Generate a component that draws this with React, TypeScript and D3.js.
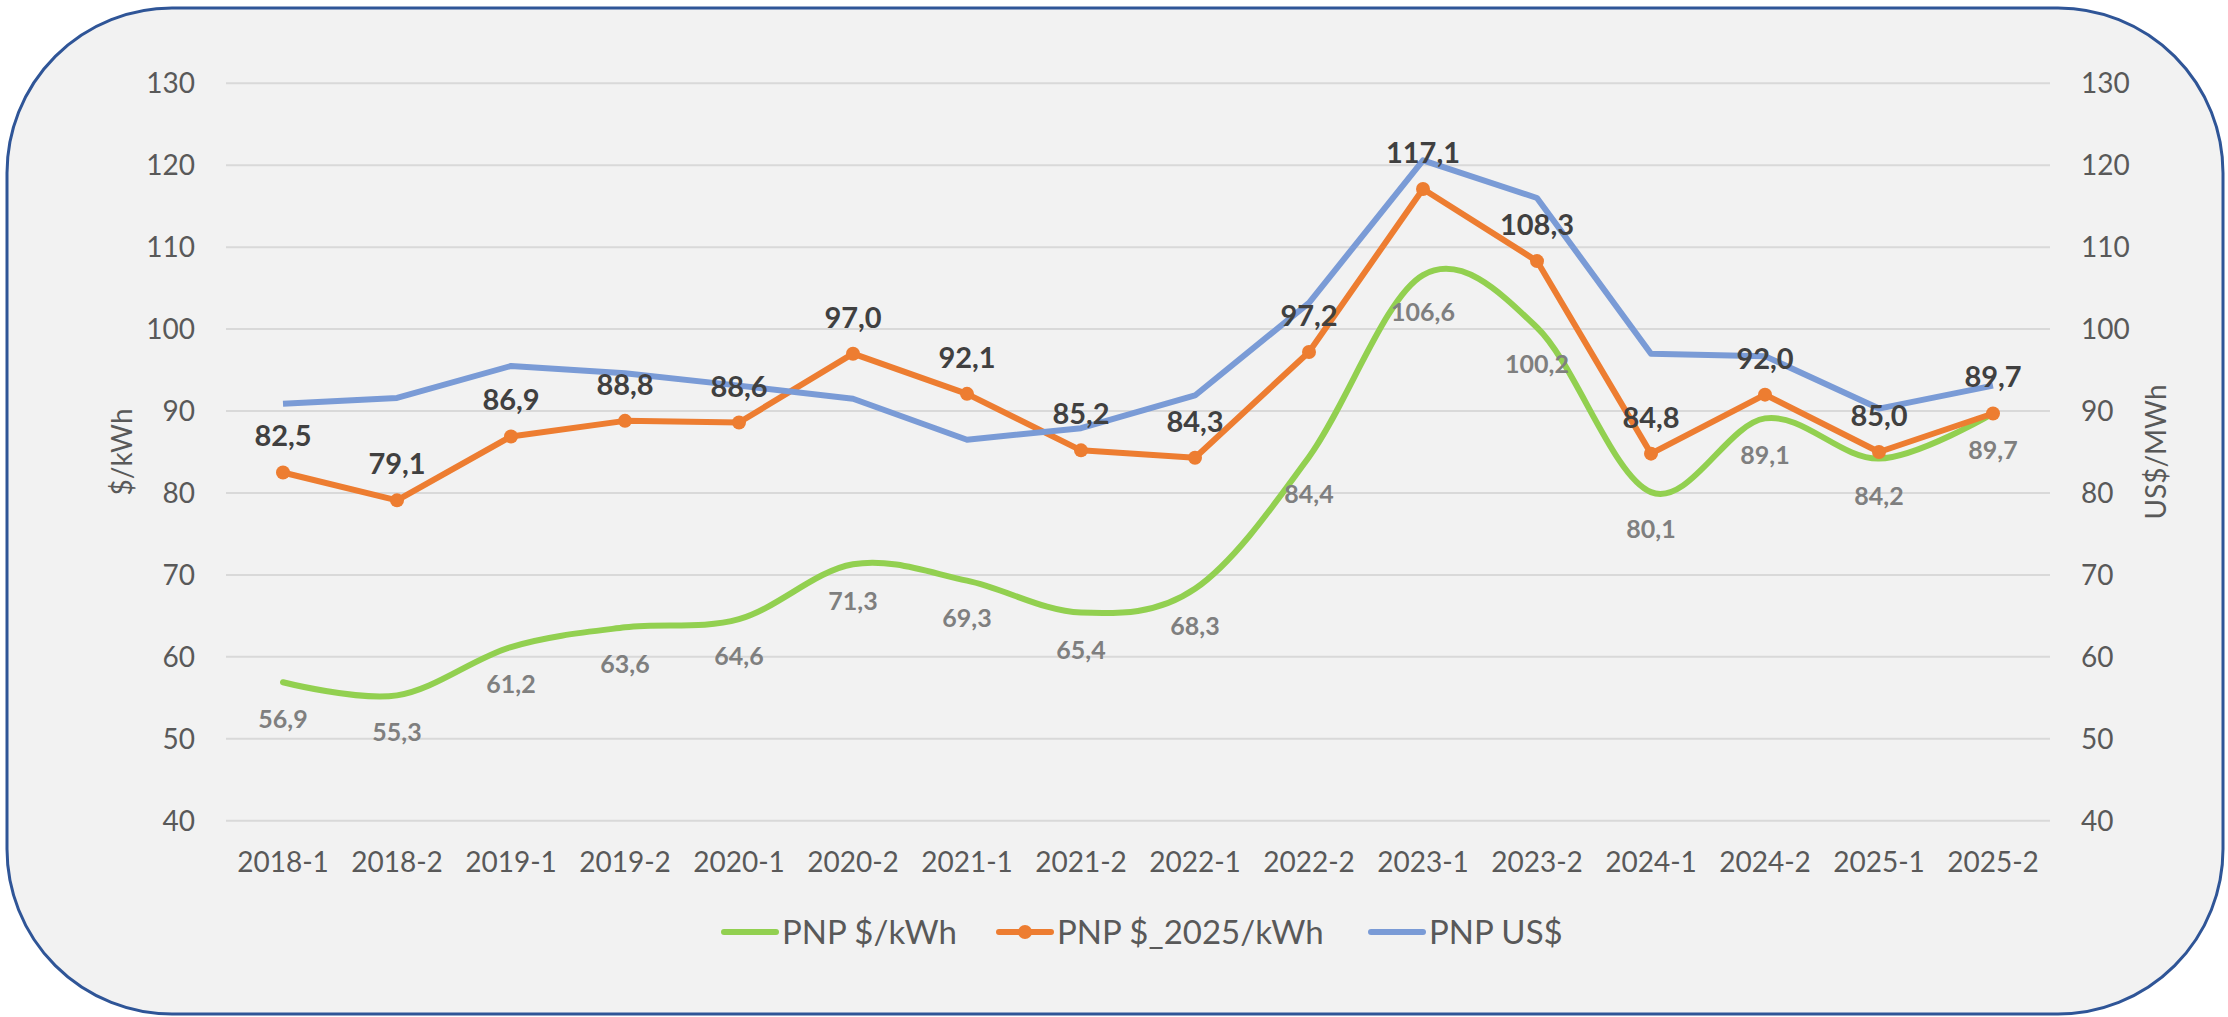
import React from 'react';
import * as d3 from 'd3';

const categories = ['2018-1','2018-2','2019-1','2019-2','2020-1','2020-2','2021-1','2021-2','2022-1','2022-2','2023-1','2023-2','2024-1','2024-2','2025-1','2025-2'];
const pnpKwh = [56.9, 55.3, 61.2, 63.6, 64.6, 71.3, 69.3, 65.4, 68.3, 84.4, 106.6, 100.2, 80.1, 89.1, 84.2, 89.7];
const pnp2025 = [82.5, 79.1, 86.9, 88.8, 88.6, 97.0, 92.1, 85.2, 84.3, 97.2, 117.1, 108.3, 84.8, 92.0, 85.0, 89.7];
const pnpUsd = [90.9, 91.6, 95.5, 94.6, 93.1, 91.5, 86.5, 87.9, 91.9, 103.2, 120.6, 116.0, 97.0, 96.7, 90.3, 93.1];
const leftTicks = [40, 50, 60, 70, 80, 90, 100, 110, 120, 130];
const rightTicks = [40, 50, 60, 70, 80, 90, 100, 110, 120, 130];
const seriesNames = ['PNP $/kWh', 'PNP $_2025/kWh', 'PNP US$'];
const leftTitle = '$/kWh';
const rightTitle = 'US$/MWh';

const W = 2228, H = 1017;
const PL = 226, PR = 2050, PT = 83.3, PB = 820.7;
const GREEN = '#92D050', ORANGE = '#ED7D31', BLUE = '#7A9BD6';
const FONT = 'Lato, "Noto Sans", sans-serif';
const fmt = (v: number) => d3.format('.1f')(v).replace('.', ',');

export default function App() {
  const x = d3.scaleBand<string>().domain(categories).range([PL, PR]).padding(0);
  const cx = (c: string) => (x(c) as number) + x.bandwidth() / 2;
  const yL = d3.scaleLinear().domain([40, 130]).range([PB, PT]);
  const yR = d3.scaleLinear().domain([40, 130]).range([PB, PT]);

  const greenLine = d3.line<number>().x((_, i) => cx(categories[i])).y(d => yL(d)).curve(d3.curveCatmullRom.alpha(0));
  const orangeLine = d3.line<number>().x((_, i) => cx(categories[i])).y(d => yL(d));
  const blueLine = d3.line<number>().x((_, i) => cx(categories[i])).y(d => yR(d));

  const legendY = 932;
  const legend = [
    { name: seriesNames[0], color: GREEN, x0: 724, marker: false },
    { name: seriesNames[1], color: ORANGE, x0: 999, marker: true },
    { name: seriesNames[2], color: BLUE, x0: 1371, marker: false },
  ];

  return (
    <svg width={W} height={H} style={{ position: 'absolute', left: 0, top: 0, background: '#ffffff' }} fontFamily={FONT}>
      <rect x={7} y={8} width={2216} height={1006} rx={165} ry={165} fill="#F2F2F2" stroke="#2F5597" strokeWidth={3} />
      {leftTicks.map(t => (
        <line key={'g' + t} x1={PL} x2={PR} y1={yL(t)} y2={yL(t)} stroke="#D9D9D9" strokeWidth={2} />
      ))}
      {leftTicks.map(t => (
        <text key={'l' + t} x={195} y={yL(t)} dy="0.35em" textAnchor="end" fontSize={28} fill="#595959">{t}</text>
      ))}
      {rightTicks.map(t => (
        <text key={'r' + t} x={2081} y={yR(t)} dy="0.35em" textAnchor="start" fontSize={28} fill="#595959">{t}</text>
      ))}
      {categories.map(c => (
        <text key={'c' + c} x={cx(c)} y={872} textAnchor="middle" fontSize={28} fill="#595959">{c}</text>
      ))}
      <text transform={`translate(132,${(PT + PB) / 2}) rotate(-90)`} textAnchor="middle" fontSize={28} fill="#595959">{leftTitle}</text>
      <text transform={`translate(2166,${(PT + PB) / 2}) rotate(-90)`} textAnchor="middle" fontSize={28} fill="#595959">{rightTitle}</text>

      <path d={greenLine(pnpKwh) || ''} fill="none" stroke={GREEN} strokeWidth={6} strokeLinecap="round" />
      <path d={orangeLine(pnp2025) || ''} fill="none" stroke={ORANGE} strokeWidth={6} strokeLinejoin="round" />
      {pnp2025.map((v, i) => (
        <circle key={'m' + i} cx={cx(categories[i])} cy={yL(v)} r={7} fill={ORANGE} />
      ))}
      <path d={blueLine(pnpUsd) || ''} fill="none" stroke={BLUE} strokeWidth={6} strokeLinejoin="round" />

      {pnpKwh.map((v, i) => (
        <text key={'gl' + i} x={cx(categories[i])} y={yL(v) + 46} textAnchor="middle" fontSize={25} fontWeight="bold" fill="#7F7F7F">{fmt(v)}</text>
      ))}
      {pnp2025.map((v, i) => (
        <text key={'ol' + i} x={cx(categories[i])} y={yL(v) - 26} textAnchor="middle" fontSize={29} fontWeight="bold" fill="#404040">{fmt(v)}</text>
      ))}

      {legend.map(l => (
        <g key={l.name}>
          <line x1={l.x0} x2={l.x0 + 52} y1={legendY} y2={legendY} stroke={l.color} strokeWidth={6} strokeLinecap="round" />
          {l.marker && <circle cx={l.x0 + 26} cy={legendY} r={7} fill={l.color} />}
          <text x={l.x0 + 58} y={legendY} dy="0.35em" fontSize={33} fill="#595959">{l.name}</text>
        </g>
      ))}
    </svg>
  );
}
